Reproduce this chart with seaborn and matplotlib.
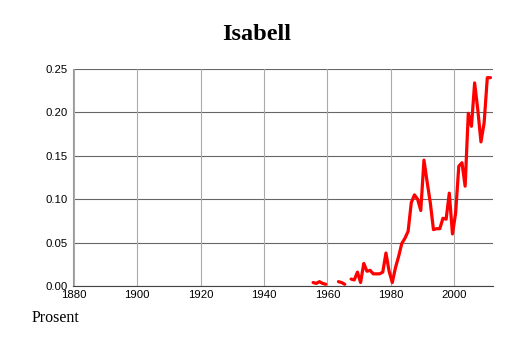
import numpy as np
import pandas as pd
import matplotlib
matplotlib.use("Agg")
import matplotlib.pyplot as plt
import seaborn as sns

years = list(range(1955, 2012))
values = [
    0.004, 0.003, 0.005, 0.003, 0.002,          # 1955-1959
    np.nan, np.nan, np.nan,                      # 1960-1962
    0.005, 0.004, 0.002,                         # 1963-1965
    np.nan,                                      # 1966
    0.008, 0.007, 0.016, 0.004, 0.026, 0.017, 0.018, 0.014, 0.014, 0.014,  # 1967-1976
    0.016, 0.038, 0.017, 0.004, 0.021, 0.034, 0.049, 0.055, 0.063, 0.096,  # 1977-1986
    0.105, 0.100, 0.087, 0.145, 0.120, 0.096, 0.065, 0.066, 0.066, 0.078,  # 1987-1996
    0.077, 0.107, 0.060, 0.084, 0.138, 0.142, 0.115, 0.199, 0.184, 0.234,  # 1997-2006
    0.203, 0.166, 0.188, 0.240, 0.240,                                     # 2007-2011
]
title = "Isabell"
ylabel_text = "Prosent"
xticks = [1880, 1900, 1920, 1940, 1960, 1980, 2000]
yticks = [0.00, 0.05, 0.10, 0.15, 0.20, 0.25]

df = pd.DataFrame({"year": years, "value": values})
df["seg"] = df["value"].isna().cumsum()
df = df.dropna()
df["x"] = df["year"] + 0.5

sns.set_style("white")
plt.rcParams["font.family"] = ["Liberation Sans", "DejaVu Sans"]

fig = plt.figure(figsize=(5.14, 3.43), dpi=100)
ax = fig.add_axes([73/514, 1 - 286/343, (493-73)/514, (286-69)/343])

sns.lineplot(data=df, x="x", y="value", units="seg", estimator=None,
             color="#ff0000", linewidth=2.3, ax=ax, legend=False)

ax.set_xlim(1879.7, 2012.3)
ax.set_ylim(0, 0.25)
ax.set_xticks(xticks)
ax.set_xticks(list(range(1885, 2012, 5)), minor=True)
ax.set_yticks(yticks)
ax.set_yticklabels([f"{v:.2f}" for v in yticks])
ax.set_xticklabels([str(v) for v in xticks])

for y in yticks:
    ax.axhline(y, color="#666666", linewidth=0.8, zorder=0)
for x in xticks:
    ax.axvline(x, color="#aaaaaa", linewidth=0.8, zorder=0)

for s in ["top", "right"]:
    ax.spines[s].set_visible(False)
ax.spines["left"].set_color("#999999")
ax.spines["left"].set_linewidth(0.8)
ax.spines["bottom"].set_color("#444444")
ax.spines["bottom"].set_linewidth(0.8)

ax.tick_params(axis="x", which="major", length=0, labelsize=8.2, pad=3, colors="#000000")
ax.tick_params(axis="x", which="minor", direction="in", length=2.5, width=0.6, color="#888888")
ax.tick_params(axis="y", length=0, labelsize=8.2, pad=4, colors="#000000")
ax.set_xlabel("")
ax.set_ylabel("")

fig.text(257/514, 1 - 34/343, title, ha="center", va="center", color="black",
         fontsize=17.5, fontweight="bold", family=["Liberation Serif", "DejaVu Serif"])
fig.text(32/514, 1 - 318/343, ylabel_text, ha="left", va="center", color="black",
         fontsize=11.5, family=["Liberation Serif", "DejaVu Serif"])

fig.savefig("out.png", dpi=100)
